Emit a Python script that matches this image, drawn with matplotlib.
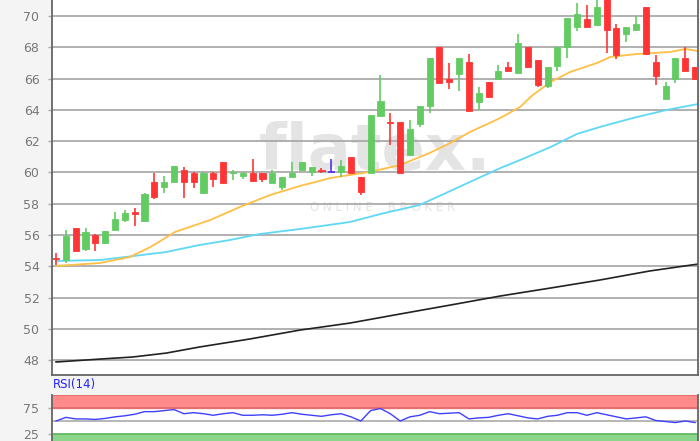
import matplotlib
matplotlib.use('Agg')
import matplotlib.pyplot as plt

# daily candles
opens = [54.55, 54.4, 56.45, 55.1, 56.0, 55.5, 56.3, 56.95, 57.5, 56.9,
         59.4, 59.05, 59.4, 60.15, 59.95, 58.7, 59.95, 60.65, 59.95, 59.75,
         59.95, 59.95, 59.3, 59.05, 59.7, 60.15, 60.0, 60.15, 60.0, 60.0,
         61.0, 59.7, 59.95, 63.6, 63.25, 63.2, 61.1, 63.1, 64.25, 68.0,
         65.95, 66.3, 67.05, 64.5, 65.8, 66.0, 66.75, 66.35, 68.0, 67.2,
         65.5, 66.8, 68.0, 69.3, 69.8, 69.4, 71.2, 69.2, 68.85, 69.1,
         70.55, 67.05, 64.7, 65.95, 67.3, 66.75]
highs = [54.85, 56.3, 56.45, 56.45, 56.05, 56.25, 57.5, 57.6, 57.75, 58.7,
         59.95, 59.8, 60.4, 60.35, 60.0, 60.0, 60.0, 60.65, 60.15, 60.0,
         60.85, 59.95, 60.15, 59.7, 60.65, 60.65, 60.35, 60.3, 60.85, 60.8,
         61.0, 59.7, 63.65, 66.2, 63.8, 63.2, 63.35, 64.25, 67.3, 68.0,
         67.0, 67.3, 67.55, 65.45, 65.8, 66.85, 67.05, 68.85, 68.0, 67.2,
         66.75, 68.0, 69.85, 70.85, 70.7, 71.1, 71.5, 69.5, 69.3, 70.0,
         70.55, 67.5, 65.8, 67.3, 68.0, 66.75]
lows = [54.1, 54.2, 55.0, 54.95, 54.95, 55.45, 56.3, 56.85, 56.6, 56.9,
        58.3, 58.7, 59.4, 58.35, 59.0, 58.7, 59.05, 59.3, 59.5, 59.6,
        59.45, 59.4, 59.3, 58.85, 59.7, 60.15, 59.8, 59.95, 60.0, 59.7,
        59.95, 58.55, 59.95, 63.6, 61.75, 59.95, 61.1, 62.9, 63.8, 65.7,
        65.3, 65.2, 63.9, 64.0, 64.85, 65.9, 66.5, 66.35, 66.65, 65.45,
        65.4, 66.5, 67.3, 69.05, 69.3, 69.4, 67.65, 67.25, 68.35, 69.1,
        67.5, 65.6, 64.7, 65.7, 66.5, 65.95]
closes = [54.45, 55.95, 55.0, 56.2, 55.5, 56.25, 57.0, 57.4, 57.35, 58.6,
          58.45, 59.4, 60.4, 59.4, 59.4, 59.95, 59.6, 59.3, 60.05, 59.95,
          59.45, 59.55, 59.95, 59.7, 59.95, 60.65, 60.35, 60.1, 60.0, 60.4,
          59.95, 58.75, 63.65, 64.55, 63.15, 59.95, 62.75, 64.25, 67.3, 65.7,
          65.8, 67.3, 63.9, 65.1, 64.85, 66.5, 66.5, 68.25, 66.75, 65.6,
          66.75, 68.0, 69.85, 70.1, 69.3, 70.55, 69.1, 67.5, 69.3, 69.5,
          67.6, 66.15, 65.5, 67.3, 66.5, 65.95]

# moving averages, sampled where they were read (x = candle index)
ma_fast_x = [0, 4.5, 7.5, 9.6, 12.1, 15.7, 18.7, 21.8, 24.8, 27.9, 31.9, 35.0, 38.0,
             40.1, 42.1, 45.2, 47.2, 48.5, 50.3, 52.3, 55.0, 56.4, 59.1, 62.5, 64.0, 65.3]
ma_fast = [54.02, 54.21, 54.59, 55.23, 56.19, 56.96, 57.79, 58.56, 59.13, 59.64, 60.03, 60.47, 61.24,
           61.88, 62.58, 63.48, 64.18, 64.95, 65.78, 66.42, 66.99, 67.38, 67.57, 67.70, 67.89, 67.76]
ma_mid_x = [0, 4.5, 7.8, 11.2, 14.6, 17.7, 20.7, 24.8, 29.9, 33.0, 37.0, 40.1, 42.1,
            45.2, 47.2, 50.3, 53.0, 55.3, 58.7, 62.1, 65.3]
ma_mid = [54.34, 54.40, 54.65, 54.91, 55.36, 55.68, 56.06, 56.38, 56.83, 57.34, 57.92, 58.81, 59.39,
          60.28, 60.79, 61.62, 62.46, 62.90, 63.48, 63.99, 64.37]
ma_slow_x = [0, 4.5, 7.8, 11.2, 14.6, 19.7, 24.8, 29.9, 35.0, 40.1, 45.2, 50.3, 55.3, 60.4, 65.3]
ma_slow = [47.88, 48.07, 48.20, 48.45, 48.84, 49.35, 49.92, 50.37, 50.95, 51.52, 52.10, 52.61,
           53.12, 53.70, 54.14]

rsi = [50, 57, 54, 54, 53, 55, 58, 60, 63, 68, 68, 70, 72, 64, 66, 64, 61, 64, 66, 61,
       61, 62, 61, 63, 66, 63, 61, 59, 62, 64, 58, 50, 70, 74, 64, 50, 58, 61, 68, 64,
       65, 66, 54, 56, 57, 61, 64, 60, 56, 54, 59, 61, 66, 66, 61, 66, 62, 58, 54, 56,
       58, 51, 49, 47, 50, 47]

price_ticks = [48, 50, 52, 54, 56, 58, 60, 62, 64, 66, 68, 70]

GREEN = '#62cc62'
RED = '#ff3535'
DOJI = '#5533ee'
GRID = '#aaaaaa'
SPINE = '#666666'
TXT = '#777777'

fig = plt.figure(figsize=(7, 4.41), dpi=100, facecolor='#f4f4f4')

ax = fig.add_axes([52/700, 66/441, 646/700, 375/441])
ax.set_facecolor('white')
ax.set_xlim(-0.41, 65.3)
ax.set_ylim(47.05, 71.02)
ax.set_yticks(price_ticks)
ax.set_xticks([])
ax.tick_params(axis='y', length=3, width=1, color=GRID, labelcolor=TXT, labelsize=9, pad=6)
ax.grid(axis='y', color=GRID, linewidth=1.3, zorder=1)
ax.set_axisbelow(True)
for side in ['top']:
    ax.spines[side].set_visible(False)
for side in ['left', 'bottom', 'right']:
    ax.spines[side].set_color(SPINE)
    ax.spines[side].set_linewidth(1.3)

# watermark
ax.text(375/700, 0.655, 'flatex.', transform=fig.transFigure, ha='center', va='center',
        fontsize=46, fontweight='bold', color='#e4e4e4', zorder=0.5, family='DejaVu Sans')
ax.text(383/700, 0.53, 'O N L I N E    B R O K E R', transform=fig.transFigure,
        ha='center', va='center', fontsize=8.5, color='#e4e4e4', zorder=0.5)

for i in range(len(opens)):
    o, h, l, c = opens[i], highs[i], lows[i], closes[i]
    if c > o:
        col = GREEN
    elif c < o:
        col = RED
    else:
        col = DOJI
    ax.vlines(i, l, h, color=col, linewidth=1.2, zorder=3)
    body = max(abs(c - o), 0.07)
    ax.bar(i, body, bottom=min(o, c), width=0.62, color=col, edgecolor=col,
           linewidth=0.6, zorder=4)

ax.plot(ma_slow_x, ma_slow, color='#222222', linewidth=1.2, zorder=2)
ax.plot(ma_mid_x, ma_mid, color='#5fd8f5', linewidth=1.3, zorder=2)
ax.plot(ma_fast_x, ma_fast, color='#ffbf45', linewidth=1.3, zorder=2)

# RSI panel
ax2 = fig.add_axes([52/700, -6/441, 646/700, 52/441])
ax2.set_facecolor('white')
ax2.set_xlim(-0.41, 65.3)
ax2.set_ylim(0, 100)
ax2.axhspan(75, 100, color='#ff8a8a', zorder=1)
ax2.axhspan(0, 25, color='#8cd68c', zorder=1)
ax2.axhline(75, color='#e06a6a', linewidth=1.2, zorder=2)
ax2.axhline(100, color='#e06a6a', linewidth=1.2, zorder=2)
ax2.axhline(25, color='#5cb85c', linewidth=1.2, zorder=2)
ax2.axhline(50, color='#aaaaaa', linewidth=1.2, zorder=2)
ax2.plot(range(len(rsi)), rsi, color='#3f3fff', linewidth=1.0, zorder=3)
ax2.set_yticks([25, 75])
ax2.set_xticks([])
ax2.tick_params(axis='y', length=3, width=1, color=GRID, labelcolor=TXT, labelsize=9, pad=6)
ax2.spines['top'].set_visible(False)
for side in ['left', 'bottom', 'right']:
    ax2.spines[side].set_color(SPINE)
    ax2.spines[side].set_linewidth(1.3)

fig.text(53/700, 50/441, 'RSI(14)', color='#2222ff', fontsize=8.5, ha='left', va='bottom')

fig.savefig('out.png', dpi=100, facecolor=fig.get_facecolor())
